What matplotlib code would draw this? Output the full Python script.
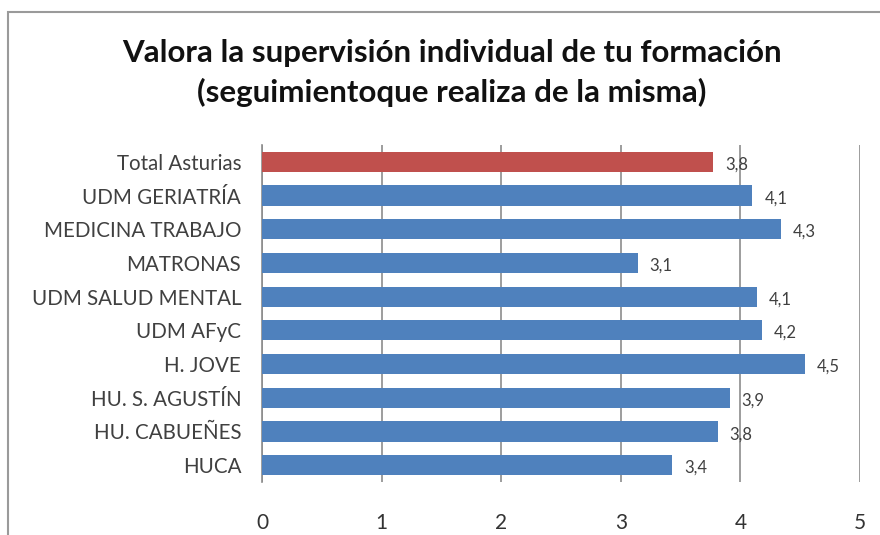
import matplotlib
matplotlib.use('Agg')
import matplotlib.pyplot as plt
from matplotlib.patches import Rectangle

plt.rcParams['font.family'] = ['Lato', 'DejaVu Sans']

# data, top to bottom as in the chart
categorias = ['Total Asturias', 'UDM GERIATRÍA', 'MEDICINA TRABAJO', 'MATRONAS',
              'UDM SALUD MENTAL', 'UDM AFyC', 'H. JOVE', 'HU. S. AGUSTÍN',
              'HU. CABUEÑES', 'HUCA']
valores = [3.77, 4.10, 4.34, 3.14, 4.14, 4.18, 4.54, 3.91, 3.81, 3.43]
etiquetas = ['3,8', '4,1', '4,3', '3,1', '4,1', '4,2', '4,5', '3,9', '3,8', '3,4']
xticks = [0, 1, 2, 3, 4, 5]

azul = '#4F81BD'
rojo = '#C0504D'
colores = [rojo] + [azul] * (len(categorias) - 1)

fig = plt.figure(figsize=(8.8, 5.35), dpi=100)
fig.patch.set_facecolor('white')

# outer chart frame
fig.patches.append(Rectangle((8/880, -0.05), 1.2, 0.05 + 1 - 12/535,
                             transform=fig.transFigure, fill=False,
                             edgecolor='#9a9a9a', lw=1.5))

ax = fig.add_axes([262/880, 1 - 482/535, 598/880, 337/535])

y = list(range(len(categorias)))
ax.barh(y, valores, height=0.6, color=colores, zorder=3)
ax.set_ylim(len(categorias) - 0.5, -0.5)
ax.set_xlim(0, 5)

for yi, v, t in zip(y, valores, etiquetas):
    ax.text(v + 0.1, yi + 0.08, t, va='center', ha='left', fontsize=12,
            color='#404040', zorder=4)

ax.set_yticks(y)
ax.set_yticklabels(categorias, fontsize=14.8, color='#404040')
ax.set_xticks(xticks)
ax.set_xticklabels([str(t) for t in xticks], fontsize=15, color='#333333')
ax.tick_params(axis='y', length=0, pad=15)
ax.tick_params(axis='x', length=0, pad=22)

ax.grid(axis='x', color='#8c8c8c', lw=1.2, zorder=0)
for s in ['top', 'right', 'bottom']:
    ax.spines[s].set_visible(False)
ax.spines['left'].set_color('#8c8c8c')
ax.spines['left'].set_linewidth(1.2)

fig.text(452/880, 1 - 73/535,
         'Valora la supervisión individual de tu formación\n(seguimientoque realiza de la misma)',
         ha='center', va='center', fontsize=22.5, fontweight='bold',
         color='#111111', linespacing=1.45)

fig.savefig('out.png', dpi=100)
